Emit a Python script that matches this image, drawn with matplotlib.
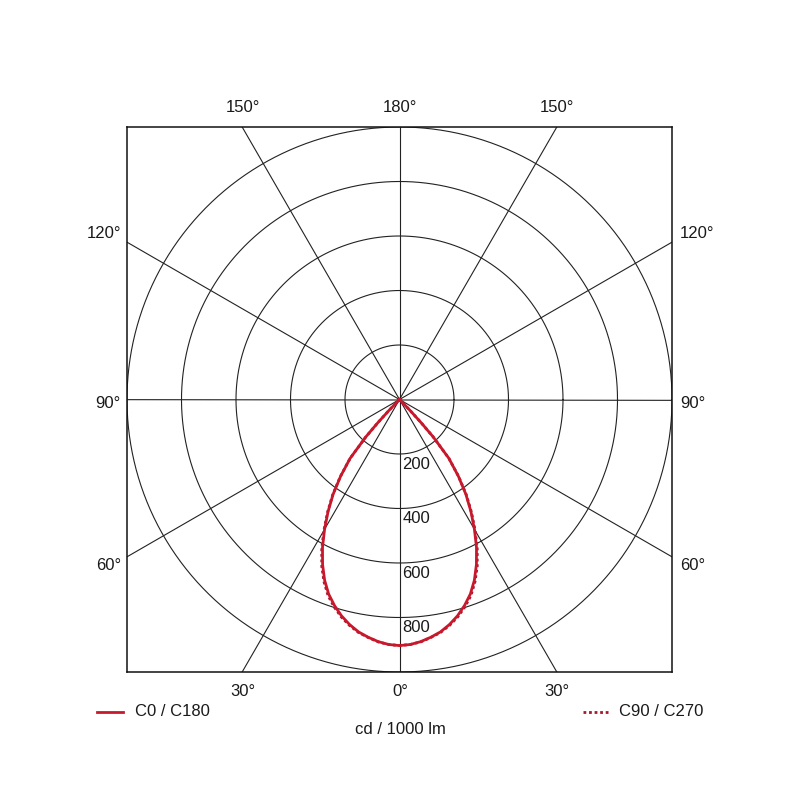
import numpy as np
import matplotlib
matplotlib.use('Agg')
import matplotlib.pyplot as plt
from matplotlib.lines import Line2D

plt.rcParams['font.family'] = ['Liberation Sans', 'DejaVu Sans']

# luminous intensity (cd / 1000 lm) against gamma angle, 0 = straight down
gamma = [0, 2.5, 5, 7.5, 10, 12.5, 15, 17.5, 20, 22.5, 25, 27.5, 30, 32.5, 35,
         37.5, 40, 42, 43, 44, 45, 50, 90, 180]
c0_c180 = [903, 900, 892, 880, 866, 846, 822, 793, 760, 718, 668, 612, 550, 488, 425,
           355, 282, 185, 117, 55, 0, 0, 0, 0]
c90_c270 = [903, 900, 893, 881, 868, 849, 826, 798, 766, 724, 675, 618, 555, 492, 428,
            357, 282, 185, 117, 55, 0, 0, 0, 0]

rings = [200, 400, 600, 800, 1000]
ring_labels = ['200', '400', '600', '800']
spokes = [0, 30, 60, 90, 120, 150]

red = '#c8182c'
dark_red = '#a8182c'
grid = '#222222'

fig = plt.figure(figsize=(8, 8), dpi=100)
ax = fig.add_axes([127 / 800, 128 / 800, 545 / 800, 545 / 800])
ax.set_xlim(-1000, 1000)
ax.set_ylim(-1000, 1000)
ax.set_aspect('equal')
ax.set_xticks([])
ax.set_yticks([])
for s in ax.spines.values():
    s.set_linewidth(1.1)
    s.set_color('#111111')

# rings
t = np.linspace(0, 2 * np.pi, 400)
for r in rings:
    ax.plot(r * np.cos(t), r * np.sin(t), color=grid, lw=0.8)

# spokes through the centre
for a in spokes:
    rad = np.deg2rad(a)
    ax.plot([-2000 * np.sin(rad), 2000 * np.sin(rad)],
            [2000 * np.cos(rad), -2000 * np.cos(rad)], color=grid, lw=0.8)

for r, lab in zip(rings, ring_labels):
    ax.text(10, -r - 10, lab, ha='left', va='top', fontsize=12, color='#1a1a1a')


def polar_xy(angles, values, side):
    g = np.deg2rad(np.asarray(angles, dtype=float))
    v = np.asarray(values, dtype=float)
    return side * v * np.sin(g), -v * np.cos(g)


# C90 / C270 dotted, C0 / C180 solid on top
for vals, style in [(c90_c270, dict(color=dark_red, lw=2.0, ls=(0, (1, 1)))),
                    (c0_c180, dict(color=red, lw=2.0, ls='-'))]:
    xl, yl = polar_xy(gamma, vals, -1)
    xr, yr = polar_xy(gamma, vals, 1)
    ax.plot(np.r_[xl[::-1], xr[1:]], np.r_[yl[::-1], yr[1:]], **style)

# angle labels around the frame
fs = 12
tc = '#1a1a1a'
fig.text(400 / 800, 1 - 108 / 800, '180°', ha='center', va='center', fontsize=fs, color=tc)
fig.text(243 / 800, 1 - 108 / 800, '150°', ha='center', va='center', fontsize=fs, color=tc)
fig.text(557 / 800, 1 - 108 / 800, '150°', ha='center', va='center', fontsize=fs, color=tc)
fig.text(400 / 800, 1 - 692 / 800, '0°', ha='center', va='center', fontsize=fs, color=tc)
fig.text(243 / 800, 1 - 692 / 800, '30°', ha='center', va='center', fontsize=fs, color=tc)
fig.text(557 / 800, 1 - 692 / 800, '30°', ha='center', va='center', fontsize=fs, color=tc)
for lab, y in [('120°', 233), ('90°', 404), ('60°', 565)]:
    fig.text(121 / 800, 1 - y / 800, lab, ha='right', va='center', fontsize=fs, color=tc)
    fig.text(680 / 800, 1 - y / 800, lab, ha='left', va='center', fontsize=fs, color=tc)

# legend and unit
fig.add_artist(Line2D([97 / 800, 123 / 800], [1 - 712 / 800] * 2, color=red, lw=2.0))
fig.text(135 / 800, 1 - 712 / 800, 'C0 / C180', ha='left', va='center', fontsize=fs, color=tc)
fig.add_artist(Line2D([583 / 800, 610 / 800], [1 - 712 / 800] * 2, color=dark_red,
                      lw=2.0, ls=(0, (1, 1))))
fig.text(619 / 800, 1 - 712 / 800, 'C90 / C270', ha='left', va='center', fontsize=fs, color=tc)
fig.text(400 / 800, 1 - 730 / 800, 'cd / 1000 lm', ha='center', va='center', fontsize=fs, color=tc)

fig.savefig('out.png', dpi=100, facecolor='white')
